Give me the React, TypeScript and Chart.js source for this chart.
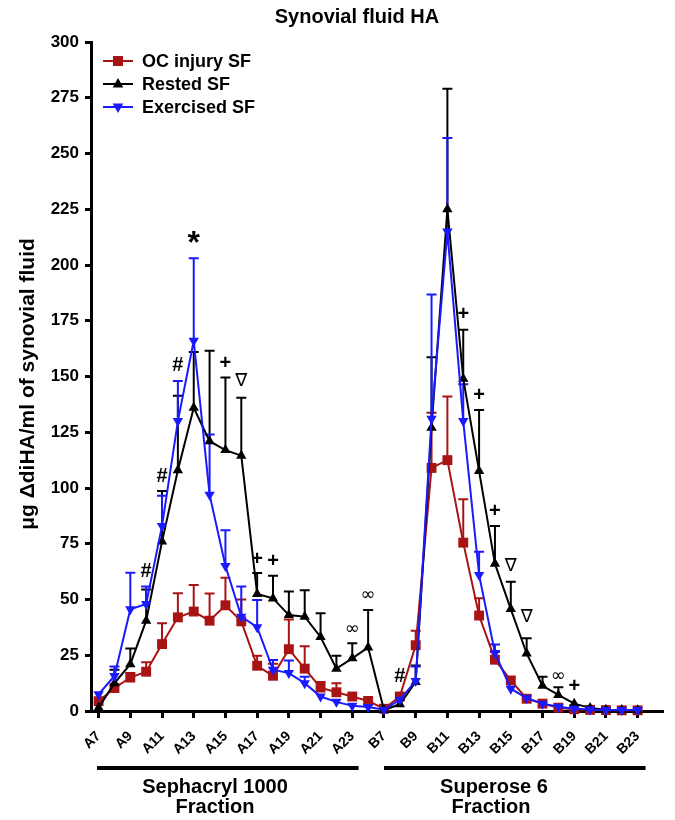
import React, { useEffect, useRef } from 'react';
import { Chart, registerables } from 'chart.js';

Chart.register(...registerables);

const categories = [
  'A7', 'A8', 'A9', 'A10', 'A11', 'A12', 'A13', 'A14', 'A15', 'A16', 'A17', 'A18', 'A19', 'A20', 'A21', 'A22', 'A23', 'A24',
  'B7', 'B8', 'B9', 'B10', 'B11', 'B12', 'B13', 'B14', 'B15', 'B16', 'B17', 'B18', 'B19', 'B20', 'B21', 'B22', 'B23',
];

const ocInjury = [
  4.4, 10.3, 15, 17.6, 30, 42, 44.6, 40.5, 47.4, 40.2, 20.3, 15.8, 27.7, 19, 10.5, 8.4, 6.5, 4.5,
  1, 6.5, 29.5, 109, 112.5, 75.5, 42.8, 23, 13.7, 5.5, 3.3, 1.5, 0.8, 0.5, 0.4, 0.3, 0.3,
];
const ocInjuryErr = [
  0, 0, 2, 4.3, 9.3, 10.8, 11.9, 12.2, 12.3, 9.8, 4.5, 5.4, 13.3, 10, 2.5, 4, 0, 0,
  0, 0, 6.5, 24.7, 28.5, 19.5, 7.8, 3.5, 0, 0, 0, 0, 0, 0, 0, 0, 0,
];

const rested = [
  1.5, 12.5, 21, 40.5, 76, 108, 136, 121, 117, 114.5, 52.5, 50.5, 43, 42.3, 33.2, 19, 23.6, 28.5,
  0.5, 3, 13, 127, 225, 149, 107.6, 66, 45.7, 25.8, 11.3, 7.2, 3.3, 1.4, 0.6, 0.4, 0.3,
];
const restedErr = [
  0, 6, 7, 14, 22.7, 33.4, 25, 40.6, 32.6, 26, 9.4, 10.1, 10.6, 11.8, 10.6, 5.8, 6.8, 16.8,
  0, 0, 7.4, 31.6, 54, 22, 27.4, 17, 12.3, 6.8, 4.1, 3.5, 0, 0, 0, 0, 0,
];

const exercised = [
  7.5, 15.7, 45.6, 48, 83, 130, 166, 97, 65, 42.3, 37.6, 18.5, 17, 12.5, 6.5, 4.1, 2.3, 1.8,
  0.6, 5, 13.5, 131, 215, 130, 61, 26, 10, 5.8, 3.3, 1.9, 1, 0.7, 0.5, 0.5, 0.5,
];
const exercisedErr = [
  0, 4.3, 16.4, 7.8, 13.5, 18, 37, 27, 16, 13.5, 12.2, 4.4, 5.6, 2.9, 0, 0, 0, 0,
  0, 0, 6.5, 55.8, 42, 16.5, 10.4, 3.8, 0, 0, 0, 0, 0, 0, 0, 0, 0,
];

// significance symbols: [category, value at symbol centre, symbol]
const significance: [string, number, string][] = [
  ['A10', 62.5, '#'], ['A11', 105, '#'], ['A12', 155, '#'], ['A13', 212, '*'],
  ['A15', 156, '+'], ['A16', 148, '∇'], ['A17', 67.8, '+'], ['A18', 67, '+'],
  ['A23', 36.4, '∞'], ['A24', 52, '∞'],
  ['B8', 15.5, '#'], ['B12', 177.6, '+'], ['B13', 141.4, '+'], ['B14', 89.5, '+'],
  ['B15', 65, '∇'], ['B16', 41.8, '∇'], ['B18', 15.5, '∞'], ['B19', 10.8, '+'],
];

const seriesNames = ['OC injury SF', 'Rested SF', 'Exercised SF'];
const tickIndex = categories.map((_, i) => i).filter((i) => i % 2 === 0);

const RED = '#a81414';
const BLACK = '#000000';
const BLUE = '#1a1aff';
const FONT = '"Liberation Sans", Arial, sans-serif';

const errorBarPlugin = {
  id: 'errorBars',
  beforeDatasetsDraw(chart: any) {
    const { ctx, scales } = chart;
    const x = scales.x;
    const y = scales.y;
    ctx.save();
    [0, 1, 2].forEach((di) => {
      const ds = chart.data.datasets[di];
      const errs: number[] = ds.errors;
      ctx.strokeStyle = ds.borderColor;
      ctx.lineWidth = 2;
      ds.data.forEach((p: any, i: number) => {
        const e = errs[i];
        if (!e) return;
        const px = x.getPixelForValue(p.x);
        const py = y.getPixelForValue(p.y);
        const pt = y.getPixelForValue(p.y + e);
        ctx.beginPath();
        ctx.moveTo(px, py);
        ctx.lineTo(px, pt);
        ctx.moveTo(px - 5, pt);
        ctx.lineTo(px + 5, pt);
        ctx.stroke();
      });
    });
    ctx.restore();
  },
};

function marker(ctx: CanvasRenderingContext2D, kind: string, x: number, y: number, color: string) {
  ctx.fillStyle = color;
  ctx.beginPath();
  if (kind === 'rect') {
    ctx.rect(x - 5, y - 5, 10, 10);
  } else if (kind === 'up') {
    ctx.moveTo(x, y - 6);
    ctx.lineTo(x + 5.3, y + 3.5);
    ctx.lineTo(x - 5.3, y + 3.5);
    ctx.closePath();
  } else {
    ctx.moveTo(x, y + 6);
    ctx.lineTo(x + 5.3, y - 3.5);
    ctx.lineTo(x - 5.3, y - 3.5);
    ctx.closePath();
  }
  ctx.fill();
}

const decorPlugin = {
  id: 'decor',
  afterDraw(chart: any) {
    const { ctx, scales } = chart;
    const x = scales.x;
    const y = scales.y;
    ctx.save();
    ctx.fillStyle = '#000';
    ctx.textAlign = 'center';
    ctx.textBaseline = 'middle';

    // title
    ctx.font = `bold 20px ${FONT}`;
    ctx.fillText('Synovial fluid HA', 357, 17);

    // y-axis title
    ctx.save();
    ctx.translate(28, 384);
    ctx.rotate(-Math.PI / 2);
    ctx.font = `bold 21px ${FONT}`;
    ctx.fillText('μg ΔdiHA/ml of synovial fluid', 0, 0);
    ctx.restore();

    // legend
    const colors = [RED, BLACK, BLUE];
    const kinds = ['rect', 'up', 'down'];
    seriesNames.forEach((name, i) => {
      const ly = 61 + i * 23;
      ctx.strokeStyle = colors[i];
      ctx.lineWidth = 2;
      ctx.beginPath();
      ctx.moveTo(103, ly);
      ctx.lineTo(133, ly);
      ctx.stroke();
      marker(ctx, kinds[i], 118, ly, colors[i]);
      ctx.fillStyle = '#000';
      ctx.textAlign = 'left';
      ctx.font = `bold 18px ${FONT}`;
      ctx.fillText(name, 142, ly + 1);
    });

    // fraction brackets
    ctx.strokeStyle = '#000';
    ctx.lineWidth = 4;
    const bY = 768;
    const b1a = x.getPixelForValue(-0.1);
    const b1b = x.getPixelForValue(16.4);
    const b2a = x.getPixelForValue(18);
    const b2b = x.getPixelForValue(34.5);
    ctx.beginPath();
    ctx.moveTo(b1a, bY);
    ctx.lineTo(b1b, bY);
    ctx.moveTo(b2a, bY);
    ctx.lineTo(b2b, bY);
    ctx.stroke();
    ctx.textAlign = 'center';
    ctx.fillStyle = '#000';
    ctx.font = `bold 20px ${FONT}`;
    ctx.fillText('Sephacryl 1000', 215, 787);
    ctx.fillText('Fraction', 215, 807);
    ctx.fillText('Superose 6', 494, 787);
    ctx.fillText('Fraction', 491, 807);

    // significance symbols
    significance.forEach(([cat, v, s]) => {
      const px = x.getPixelForValue(categories.indexOf(cat));
      const py = y.getPixelForValue(v);
      if (s === '*') ctx.font = `bold 32px ${FONT}`;
      else if (s === '∇' || s === '∞') ctx.font = `18px "DejaVu Sans", sans-serif`;
      else ctx.font = `bold 20px ${FONT}`;
      ctx.fillText(s, px, s === '*' ? py + 6 : py);
    });
    ctx.restore();
  },
};

export default function App() {
  const ref = useRef<HTMLCanvasElement>(null);

  useEffect(() => {
    if (!ref.current) return;
    const mk = (vals: number[]) => vals.map((v, i) => ({ x: i, y: v }));
    const chart = new Chart(ref.current, {
      type: 'line',
      data: {
        datasets: [
          {
            label: seriesNames[0],
            data: mk(ocInjury),
            errors: ocInjuryErr,
            borderColor: RED,
            backgroundColor: RED,
            pointBackgroundColor: RED,
            pointStyle: 'rect',
            pointRadius: 7,
            borderWidth: 2,
            pointBorderWidth: 0,
            order: 3,
            clip: false,
          } as any,
          {
            label: seriesNames[1],
            data: mk(rested),
            errors: restedErr,
            borderColor: BLACK,
            backgroundColor: BLACK,
            pointBackgroundColor: BLACK,
            pointStyle: 'triangle',
            pointRadius: 6,
            borderWidth: 2,
            pointBorderWidth: 0,
            order: 2,
            clip: false,
          } as any,
          {
            label: seriesNames[2],
            data: mk(exercised),
            errors: exercisedErr,
            borderColor: BLUE,
            backgroundColor: BLUE,
            pointBackgroundColor: BLUE,
            pointStyle: 'triangle',
            pointRotation: 180,
            pointRadius: 6,
            borderWidth: 2,
            pointBorderWidth: 0,
            order: 1,
            clip: false,
          } as any,
        ],
      },
      options: {
        responsive: false,
        animation: false,
        devicePixelRatio: 1,
        layout: { padding: { top: 42, right: 12, bottom: 0, left: 0 } },
        plugins: {
          legend: { display: false },
          tooltip: { enabled: false },
          title: { display: false },
        },
        elements: { line: { tension: 0 } },
        scales: {
          x: {
            type: 'linear',
            min: -0.48,
            max: 35.6,
            afterBuildTicks: (axis: any) => {
              axis.ticks = tickIndex.map((v) => ({ value: v }));
            },
            afterFit: (axis: any) => {
              axis.height = 109;
            },
            ticks: {
              autoSkip: false,
              maxRotation: 45,
              minRotation: 45,
              padding: 10,
              color: '#000',
              font: { family: FONT, size: 14, weight: 'bold' },
              callback: (v: any) => categories[v as number] ?? '',
            },
            grid: {
              display: true,
              drawOnChartArea: false,
              drawTicks: true,
              tickLength: 7,
              tickWidth: 3,
              tickColor: '#000',
            },
            border: { display: true, width: 3, color: '#000' },
          },
          y: {
            min: 0,
            max: 300,
            afterFit: (axis: any) => {
              axis.width = 91;
            },
            ticks: {
              stepSize: 25,
              padding: 6,
              color: '#000',
              font: { family: FONT, size: 17, weight: 'bold' },
            },
            grid: {
              display: true,
              drawOnChartArea: false,
              drawTicks: true,
              tickLength: 6,
              tickWidth: 3,
              tickColor: '#000',
            },
            border: { display: true, width: 3, color: '#000' },
          },
        },
      } as any,
      plugins: [errorBarPlugin, decorPlugin],
    });
    return () => chart.destroy();
  }, []);

  return (
    <canvas
      ref={ref}
      width={675}
      height={820}
      style={{ position: 'absolute', left: 0, top: 0, width: 675, height: 820 }}
    />
  );
}
